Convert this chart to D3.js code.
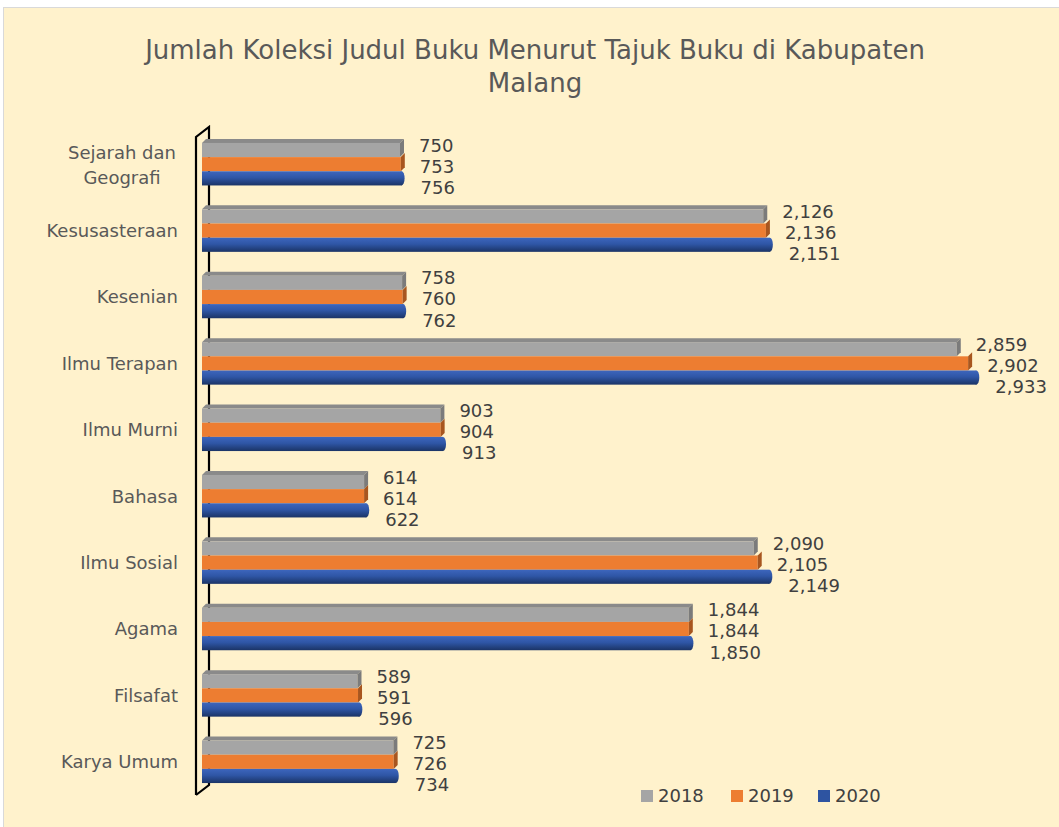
<!DOCTYPE html>
<html>
<head>
<meta charset="utf-8">
<script src="https://cdn.jsdelivr.net/npm/d3@7"></script>
<style>
  body { margin: 0; background: #fff; }
  svg { display: block; font-family: "DejaVu Sans", Verdana, sans-serif; }
</style>
</head>
<body>
<div id="chart-container"></div>
<script>
// data, top to bottom
const categories = ["Sejarah dan Geografi", "Kesusasteraan", "Kesenian", "Ilmu Terapan", "Ilmu Murni",
  "Bahasa", "Ilmu Sosial", "Agama", "Filsafat", "Karya Umum"];
const years = ["2018", "2019", "2020"];
const values2018 = [750, 2126, 758, 2859, 903, 614, 2090, 1844, 589, 725];
const values2019 = [753, 2136, 760, 2902, 904, 614, 2105, 1844, 591, 726];
const values2020 = [756, 2151, 762, 2933, 913, 622, 2149, 1850, 596, 734];
const seriesValues = [values2018, values2019, values2020];

const width = 1059, height = 827;
const colors = {front: ["#A5A5A5", "#ED7D31", "#2E54A1"], side: ["#7B7B7B", "#A8561F", "#1E3870"],
  top: ["#8A8A8A", "#C9672A", "#4A70C0"]};

const svg = d3.select("#chart-container").append("svg").attr("width", width).attr("height", height);

svg.append("rect").attr("x", 3.5).attr("y", 7.5).attr("width", width).attr("height", height)
  .attr("fill", "#FFF2CC").attr("stroke", "#D9D9D9");

// title
svg.append("text").attr("x", 535).attr("y", 59).attr("text-anchor", "middle")
  .attr("font-size", 26).attr("fill", "#595959").text("Jumlah Koleksi Judul Buku Menurut Tajuk Buku di Kabupaten");
svg.append("text").attr("x", 535).attr("y", 92).attr("text-anchor", "middle")
  .attr("font-size", 26).attr("fill", "#595959").text("Malang");

const x = d3.scaleLinear().domain([0, 3000]).range([202, 994]);
const y = d3.scaleBand().domain(categories).range([131, 795]).paddingInner(0.36).paddingOuter(0.18);
const ySub = d3.scaleBand().domain(years).range([0, y.bandwidth()]);

const depth = {dx: 4, dy: -4};

// 3D wall outline
const wallTop = 137, wallBottom = 795, wx = 196, wdx = 13, wdy = -10;
svg.append("path")
  .attr("d", `M${wx},${wallBottom} L${wx},${wallTop} L${wx + wdx},${wallTop + wdy} L${wx + wdx},${wallBottom + wdy} L${wx},${wallBottom}`)
  .attr("fill", "none").attr("stroke", "#000").attr("stroke-width", 2.2);

// blue cylinder gradient
const defs = svg.append("defs");
const grad = defs.append("linearGradient").attr("id", "blueGrad").attr("x1", 0).attr("y1", 0).attr("x2", 0).attr("y2", 1);
grad.append("stop").attr("offset", "0%").attr("stop-color", "#3D66BD");
grad.append("stop").attr("offset", "45%").attr("stop-color", "#2F56A6");
grad.append("stop").attr("offset", "100%").attr("stop-color", "#1B3466");

const groups = svg.selectAll("g.cat").data(categories).enter().append("g").attr("class", "cat")
  .attr("transform", d => `translate(0, ${y(d)})`);

years.forEach((yr, s) => {
  const h = ySub.bandwidth();
  groups.each(function (cat, i) {
    const g = d3.select(this);
    const v = seriesValues[s][i];
    const x0 = x(0), x1 = x(v), y0 = ySub(yr);
    if (s < 2) {
      if (s === 0) {
        g.append("path").attr("d", `M${x0},${y0} L${x0 + depth.dx},${y0 + depth.dy} L${x1 + depth.dx},${y0 + depth.dy} L${x1},${y0} Z`)
          .attr("fill", colors.top[s]);
      }
      g.append("rect").attr("x", x0).attr("y", y0).attr("width", x1 - x0).attr("height", h).attr("fill", colors.front[s]);
      g.append("path").attr("d", `M${x1},${y0} L${x1 + depth.dx},${y0 + depth.dy} L${x1 + depth.dx},${y0 + h + depth.dy} L${x1},${y0 + h} Z`)
        .attr("fill", colors.side[s]);
    } else {
      g.append("rect").attr("x", x0).attr("y", y0).attr("width", x1 - x0).attr("height", h)
        .attr("fill", "url(#blueGrad)");
      g.append("ellipse").attr("cx", x1).attr("cy", y0 + h / 2).attr("rx", 3).attr("ry", h / 2)
        .attr("fill", "url(#blueGrad)");
    }
    const offs = [-5, 2, 9];
    g.append("text").attr("x", x1 + 19).attr("y", y0 + h / 2 + offs[s]).attr("dy", "0.36em")
      .attr("font-size", 18).attr("fill", "#404040").text(d3.format(",")(v));
  });
});

// category labels
const catLabels = svg.selectAll("text.cat").data(categories).enter().append("text").attr("class", "cat")
  .attr("text-anchor", "end").attr("font-size", 18).attr("fill", "#595959")
  .attr("y", d => y(d) + y.bandwidth() / 2);
catLabels.each(function (d) {
  const t = d3.select(this);
  if (d === "Sejarah dan Geografi") {
    t.attr("text-anchor", "middle");
    t.append("tspan").attr("x", 122).attr("dy", "-0.3em").text("Sejarah dan");
    t.append("tspan").attr("x", 122).attr("dy", "1.4em").text("Geografi");
  } else {
    t.attr("x", 178).attr("dy", "0.36em").text(d);
  }
});

// legend
const legendX = [641, 731, 818];
const legend = svg.selectAll("g.legend").data(years).enter().append("g").attr("class", "legend")
  .attr("transform", (d, i) => `translate(${legendX[i]}, 796)`);
legend.append("rect").attr("x", 0).attr("y", -6).attr("width", 12).attr("height", 12)
  .attr("fill", (d, i) => colors.front[i]);
legend.append("text").attr("x", 17).attr("dy", "0.36em").attr("font-size", 18).attr("fill", "#404040").text(d => d);
</script>
</body>
</html>
